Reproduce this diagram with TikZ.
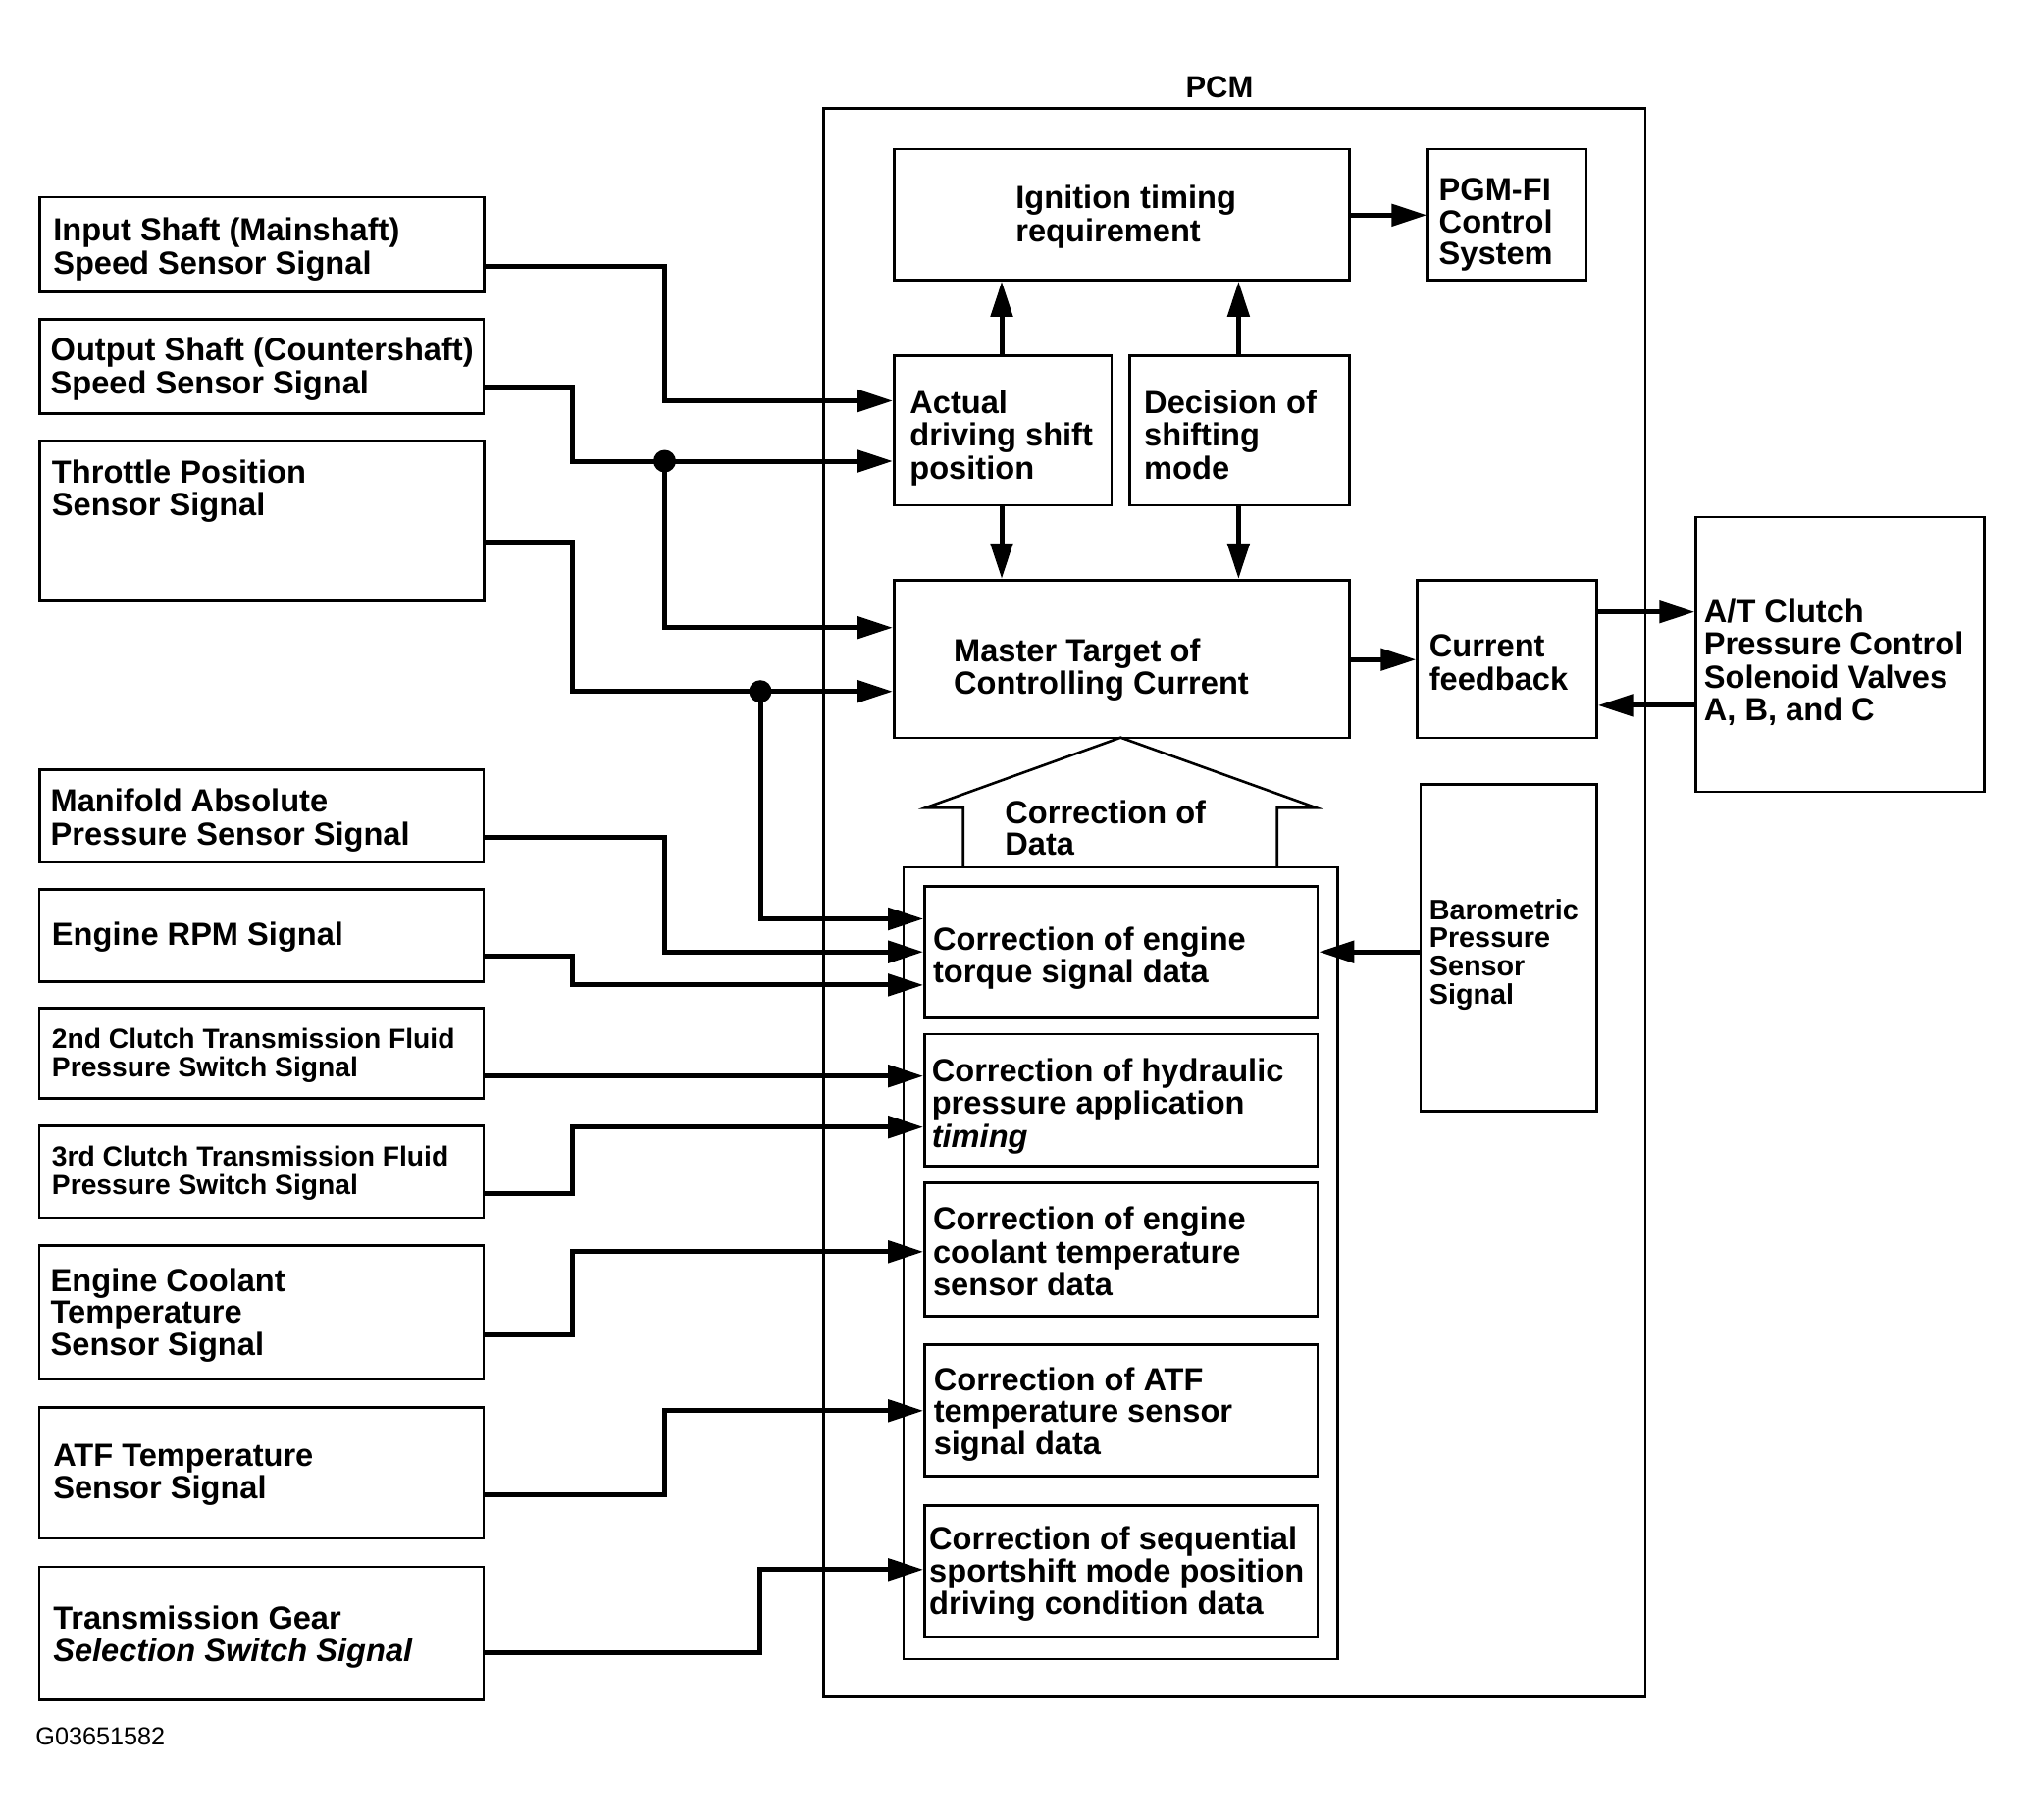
\documentclass[tikz,border=0pt]{standalone}
\usepackage{fontspec}
\setmainfont{Liberation Sans}
\usetikzlibrary{arrows.meta,fit}
\newcommand\tl[1]{\begin{tabular}[t]{@{}l@{}}#1\end{tabular}}
\renewcommand\arraystretch{1}
\begin{document}
\begin{tikzpicture}[x=0.5pt,y=-0.5pt,
  box/.style={draw,line width=1.3pt,inner sep=0pt,fit={#1}},
  txt/.style={anchor=base west,inner sep=0pt,font=\fontsize{16.3}{16.2}\selectfont\bfseries},
  stxt/.style={anchor=base west,inner sep=0pt,font=\fontsize{14.1}{14.2}\selectfont\bfseries},
  btxt/.style={anchor=base west,inner sep=0pt,font=\fontsize{14.4}{13.6}\selectfont\bfseries},
  conn/.style={line width=2.5pt,-{Triangle[length=18pt,width=11pt]}},
  dot/.style={circle,fill,inner sep=0pt,minimum size=11.5pt}]
\useasboundingbox (0,0) rectangle (2062,1854);
% left input boxes
\node[box={(40.5,201) (493.5,297.4)}] (in) {};
\node[txt] (inT) at (53.9,245.9) {\tl{Input Shaft (Mainshaft)\\Speed Sensor Signal}};
\node[box={(40.5,325.2) (493,421.5)}] (out) {};
\node[txt] (outT) at (51.3,367.7) {\tl{Output Shaft (Countershaft)\\Speed Sensor Signal}};
\node[box={(40.5,449.3) (493.5,612.5)}] (tps) {};
\node[txt] (tpsT) at (52.6,492.5) {\tl{Throttle Position\\Sensor Signal}};
\node[box={(40.5,784.5) (493,879.1)}] (map) {};
\node[txt] (mapT) at (51.3,827.7) {\tl{Manifold Absolute\\Pressure Sensor Signal}};
\node[box={(40,906.3) (493,1000.3)}] (rpm) {};
\node[txt] (rpmT) at (52.6,963.7) {\tl{Engine RPM Signal}};
\node[box={(40,1027.5) (493,1119.7)}] (c2) {};
\node[stxt] (c2T) at (52.6,1068.9) {\tl{2nd Clutch Transmission Fluid\\Pressure Switch Signal}};
\node[box={(40,1147.5) (493,1240.9)}] (c3) {};
\node[stxt] (c3T) at (52.6,1188.9) {\tl{3rd Clutch Transmission Fluid\\Pressure Switch Signal}};
\node[box={(40,1269.3) (493,1405.3)}] (ect) {};
\node[txt] (ectT) at (51.3,1316) {\tl{Engine Coolant\\Temperature\\Sensor Signal}};
\node[box={(40,1434.3) (493,1567.9)}] (atf) {};
\node[txt] (atfT) at (53.9,1494.6) {\tl{ATF Temperature\\Sensor Signal}};
\node[box={(40,1596.8) (493,1732.2)}] (tgs) {};
\node[txt] (tgsT) at (53.9,1660) {\tl{Transmission Gear\\\itshape Selection Switch Signal}};
\node[anchor=base west,inner sep=0pt,font=\fontsize{12.6}{13}\selectfont] (code) at (36,1778) {G03651582};
% PCM
\node[box={(839.6,110.6) (1677,1729.3)}] (pcm) {};
\node[anchor=base,inner sep=0pt,font=\fontsize{15.5}{16}\selectfont\bfseries] (pcmT) at (1243,99.3) {PCM};
\node[box={(911.3,151.9) (1375.5,285.5)}] (ign) {};
\node[txt] (ignT) at (1035,212.8) {\tl{Ignition timing\\requirement}};
\node[box={(1455.7,151.9) (1616.8,285.5)}] (pgm) {};
\node[txt] (pgmT) at (1466.3,204) {\tl{PGM-FI\\Control\\System}};
\node[box={(911.3,362.4) (1132.9,515)}] (act) {};
\node[txt] (actT) at (927,421.5) {\tl{Actual\\driving shift\\position}};
\node[box={(1151.3,362.4) (1375.5,515)}] (dec) {};
\node[txt] (decT) at (1165.8,421.5) {\tl{Decision of\\shifting\\mode}};
\node[box={(911.3,591.2) (1375.5,752)}] (mst) {};
\node[txt] (mstT) at (971.8,674) {\tl{Master Target of\\Controlling Current}};
\node[box={(1444.6,591.2) (1627.4,752)}] (cfb) {};
\node[txt] (cfbT) at (1456.4,669.8) {\tl{Current\\feedback}};
\node[box={(1728.6,526.8) (2022.5,807)}] (atc) {};
\node[txt] (atcT) at (1736.5,634.4) {\tl{A/T Clutch\\Pressure Control\\Solenoid Valves\\A, B, and C}};
\node[box={(1447.9,799.3) (1627.4,1132.7)}] (baro) {};
\node[btxt] (baroT) at (1456.4,937.8) {\tl{Barometric\\Pressure\\Sensor\\Signal}};
% correction arrow
\draw[line width=1.3pt,line join=miter] (981.7,884) -- (981.7,823.3) -- (943.3,823.3) -- (1142.3,751.7)
  -- (1341.7,823.3) -- (1301.7,823.3) -- (1301.7,884);
\node[txt] (corT) at (1024,839.3) {\tl{Correction of\\Data}};
\node[box={(921,884) (1363.7,1690.8)}] (cont) {};
\node[box={(942.5,903.3) (1343,1037.6)}] (t1) {};
\node[txt] (t1T) at (950.7,968.4) {\tl{Correction of engine\\torque signal data}};
\node[box={(942.5,1054.1) (1343,1188.3)}] (t2) {};
\node[txt] (t2T) at (949.4,1102.6) {\tl{Correction of hydraulic\\pressure application\\\itshape timing}};
\node[box={(942.5,1205.5) (1343,1341.4)}] (t3) {};
\node[txt] (t3T) at (950.7,1253.9) {\tl{Correction of engine\\coolant temperature\\sensor data}};
\node[box={(942.5,1370.4) (1343,1504.6)}] (t4) {};
\node[txt] (t4T) at (951.4,1417.1) {\tl{Correction of ATF\\temperature sensor\\signal data}};
\node[box={(942.5,1534.2) (1343,1667.8)}] (t5) {};
\node[txt] (t5T) at (946.8,1579) {\tl{Correction of sequential\\sportshift mode position\\driving condition data}};
% junctions
\coordinate (j1) at (677.5,470);
\coordinate (j2) at (775,704.7);
% connectors from left
\draw[conn] (in.east |- 0,271.4) -| (677.5,408.5) -- (act.west |- 0,408.5);
\draw[conn] (out.east |- 0,394.3) -| (583.9,470) -- (act.west |- j1);
\draw[conn] (j1) |- (mst.west |- 0,639.7);
\draw[conn] (tps.east |- 0,552.8) -| (583.9,704.7) -- (mst.west |- j2);
\draw[conn] (j2) |- (t1.west |- 0,936.5);
\draw[conn] (map.east |- 0,853.1) -| (677.5,970.2) -- (t1.west |- 0,970.2);
\draw[conn] (rpm.east |- 0,974.3) -| (583.9,1003.9) -- (t1.west |- 0,1003.9);
\draw[conn] (c2.east |- 0,1096.7) -- (t2.west |- 0,1096.7);
\draw[conn] (c3.east |- 0,1216.1) -| (583.9,1148.7) -- (t2.west |- 0,1148.7);
\draw[conn] (ect.east |- 0,1360.4) -| (583.9,1275.8) -- (t3.west |- 0,1275.8);
\draw[conn] (atf.east |- 0,1523) -| (677.5,1437.8) -- (t4.west |- 0,1437.8);
\draw[conn] (tgs.east |- 0,1684.9) -| (774,1599.8) -- (t5.west |- 0,1599.8);
\node[dot] (d1) at (j1) {};
\node[dot] (d2) at (j2) {};
% internal connectors
\draw[conn] (ign.east |- 0,219.3) -- (pgm.west |- 0,219.3);
\draw[conn] (act.north -| 1021,0) -- (ign.south -| 1021,0);
\draw[conn] (dec.north -| 1262.4,0) -- (ign.south -| 1262.4,0);
\draw[conn] (act.south -| 1021,0) -- (mst.north -| 1021,0);
\draw[conn] (dec.south -| 1262.4,0) -- (mst.north -| 1262.4,0);
\draw[conn] (mst.east |- 0,672.2) -- (cfb.west |- 0,672.2);
\draw[conn] (cfb.east |- 0,623.7) -- (atc.west |- 0,623.7);
\draw[conn] (atc.west |- 0,718.9) -- (cfb.east |- 0,718.9);
\draw[conn] (baro.west |- 0,970.2) -- (t1.east |- 0,970.2);
\end{tikzpicture}
\end{document}
